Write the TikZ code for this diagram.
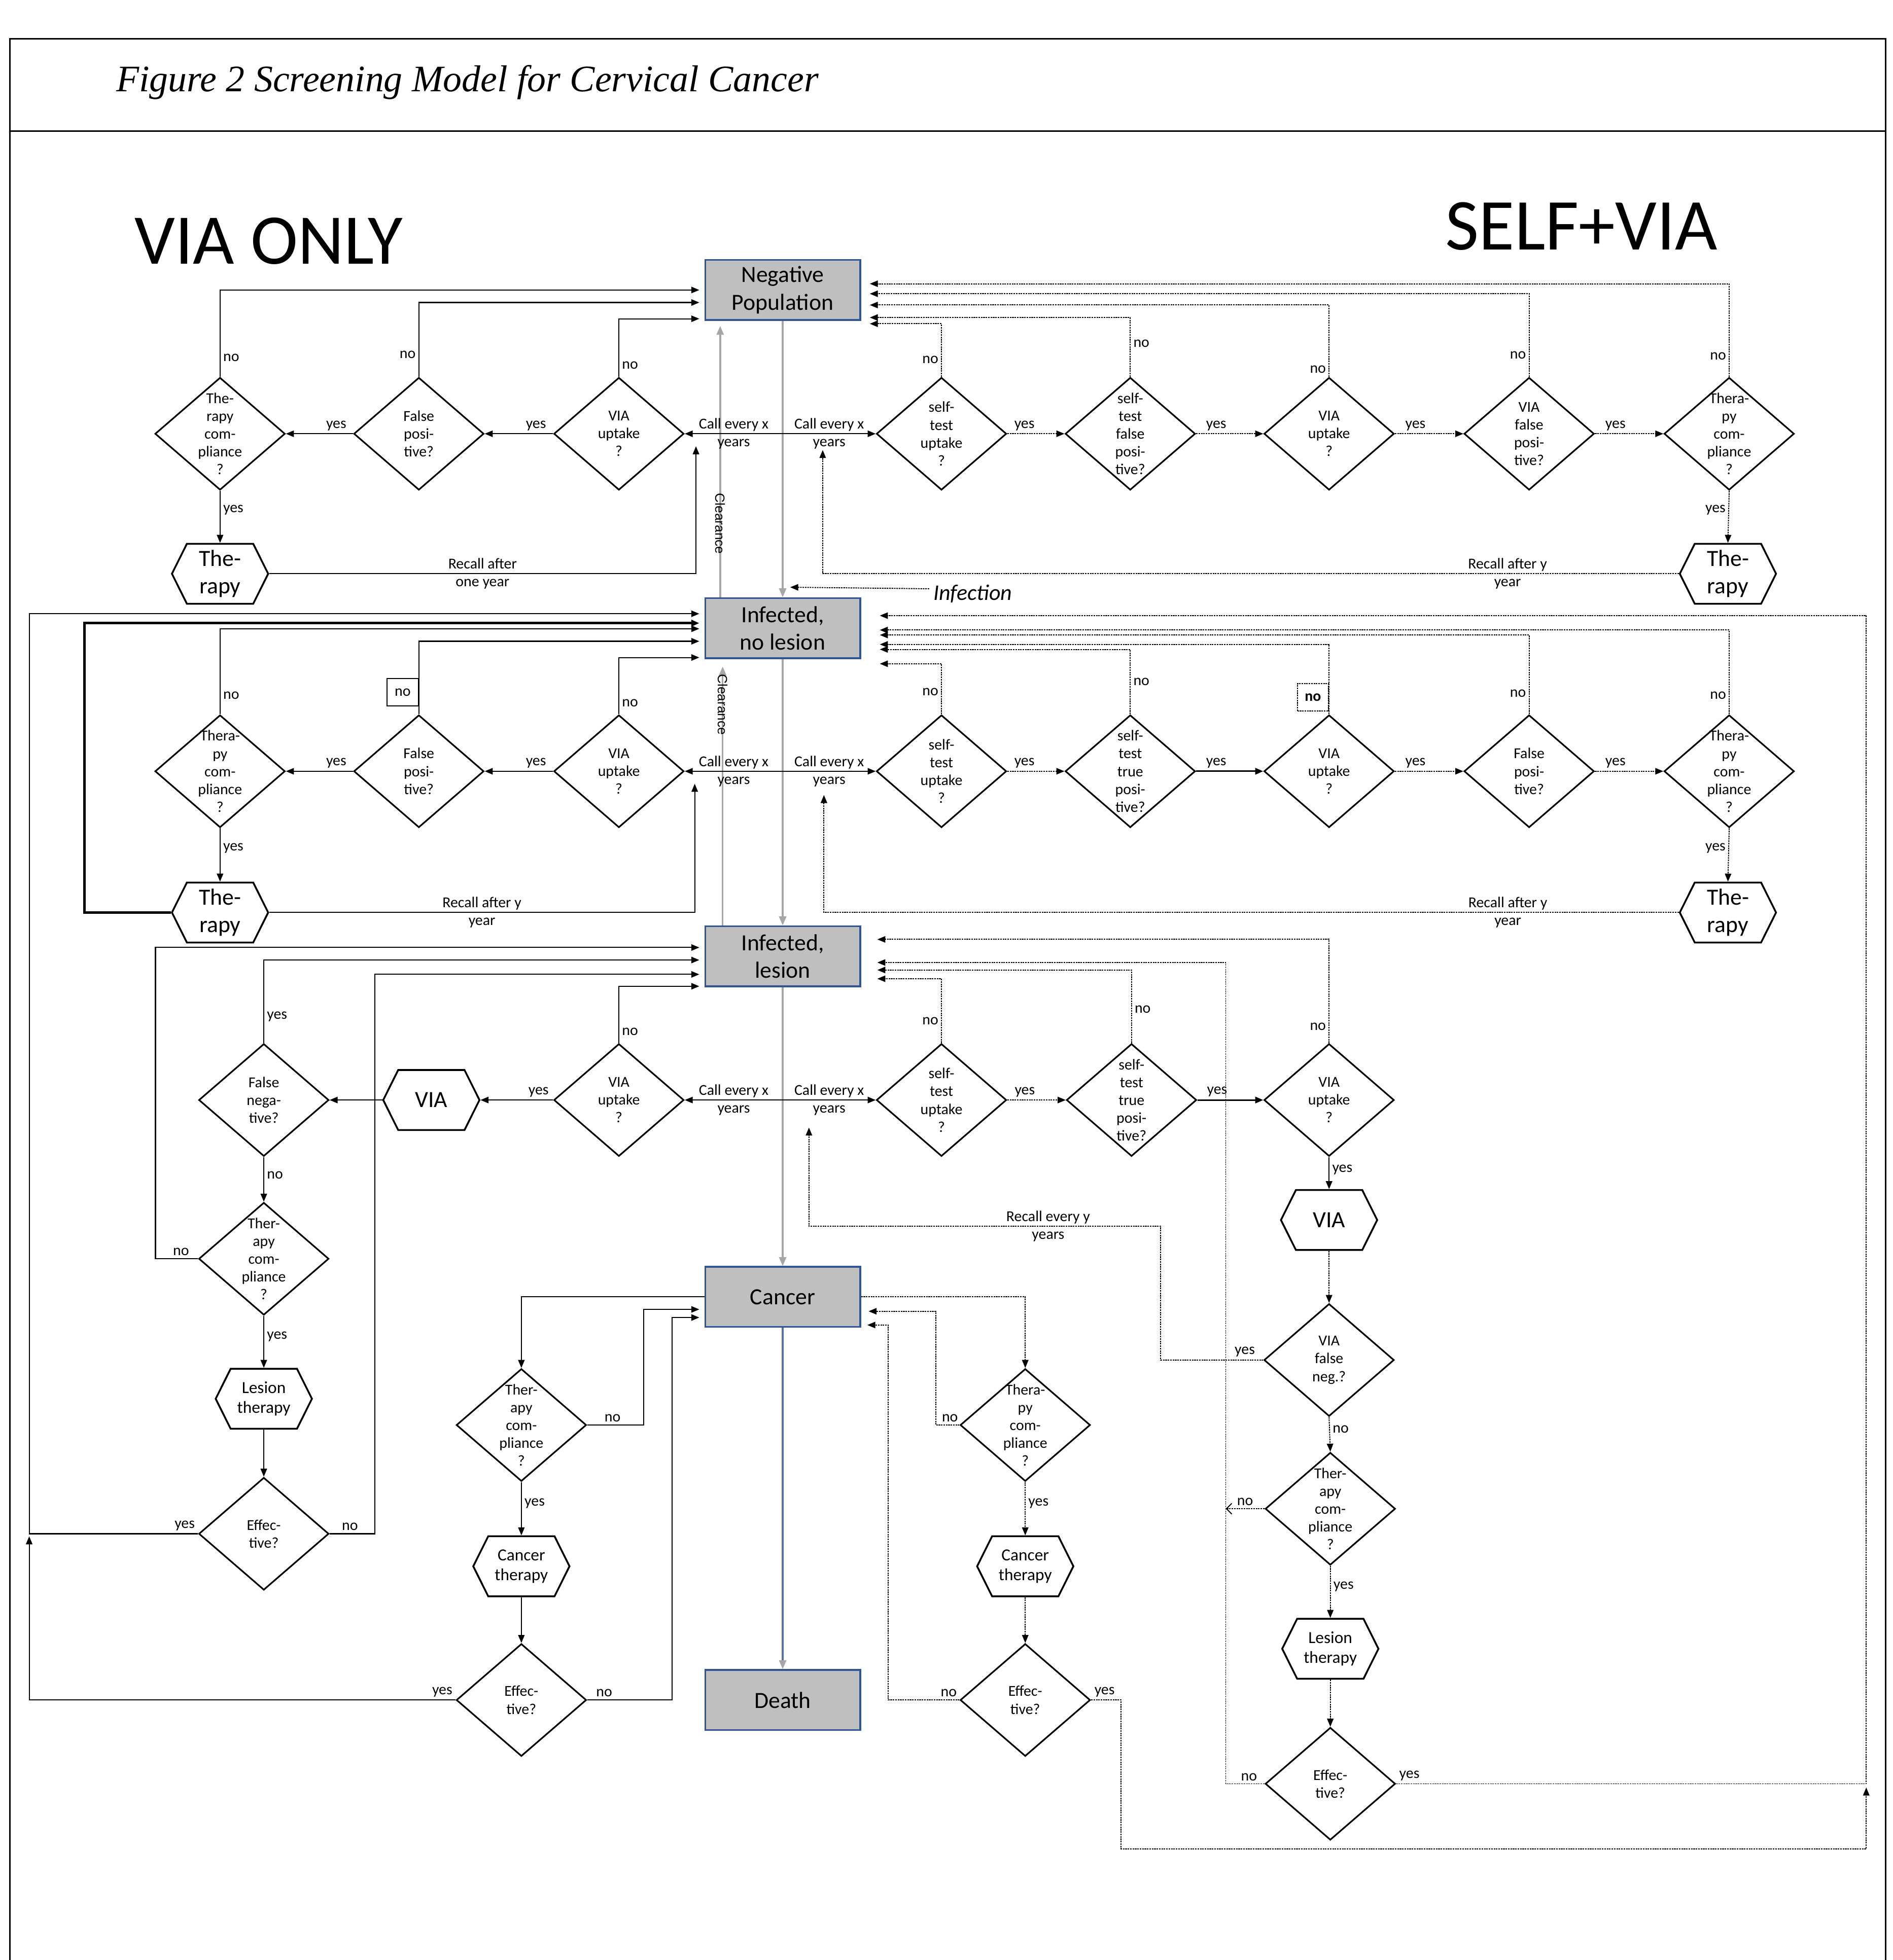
\documentclass[tikz,border=0pt]{standalone}
\usepackage{fontspec}
\setmainfont{Carlito}
\newfontfamily\capfont{Liberation Serif}
\newfontfamily\arialfont{Liberation Sans}
\usepackage{tikz}
\usetikzlibrary{positioning,arrows.meta,shapes.geometric,shapes.symbols,calc}
\definecolor{stategray}{HTML}{BFBFBF}
\definecolor{stateline}{HTML}{2F5597}
\definecolor{flowgray}{HTML}{A6A6A6}
\definecolor{deathline}{HTML}{5573A8}

\begin{document}
\begin{tikzpicture}[
  x=0.02464cm, y=-0.02464cm,
  font=\fontsize{8.5}{10}\selectfont,
  statebox/.style={draw=stateline, fill=stategray, line width=1pt, minimum width=3.055cm, minimum height=1.183cm, align=center, inner sep=2pt, font=\fontsize{13}{15.5}\selectfont},
  dtxt/.style={align=center, inner sep=0pt, font=\fontsize{8.5}{10}\selectfont},
  dia/.style={diamond, draw, line width=0.9pt, minimum width=2.563cm, minimum height=2.218cm, inner sep=0pt, label={[dtxt]center:#1}},
  hexa/.style={signal, signal to=east and west, signal pointer angle=127, draw, line width=1pt, minimum width=1.897cm, minimum height=1.183cm, inner sep=0pt},
  bigtxt/.style={label={[align=center, inner sep=0pt, font=\fontsize{13}{15.5}\selectfont]center:#1}},
  smalltxt/.style={label={[align=center, inner sep=0pt, font=\fontsize{9.5}{11.2}\selectfont]center:#1}},
  lbl/.style={font=\fontsize{8.5}{10}\selectfont, inner sep=1.5pt},
  twoline/.style={lbl, align=center, inner sep=0pt},
  nobox/.style={lbl, minimum width=0.616cm, minimum height=0.542cm},
  clr/.style={text=black, font=\arialfont\fontsize{7.5}{9}\selectfont, rotate=-90, inner sep=0pt},
  arr/.style={-{Triangle[length=4.5pt,width=3.6pt]}, line width=0.6pt},
  dotline/.style={line width=0.55pt, dash pattern=on 0.9pt off 0.45pt},
  darr/.style={dotline, -{Triangle[length=4.5pt,width=3.6pt]}},
  garr/.style={flowgray, line width=1pt, -{Triangle[length=5pt,width=4pt]}}]

\useasboundingbox (0,0) rectangle (1514,1568);

% frame and titles
\draw[line width=0.9pt] (8,1568) -- (8,31) -- (1508,31) -- (1508,1568);
\draw[line width=0.9pt] (8,105) -- (1508,105);
\node[anchor=west, font={\capfont\itshape\fontsize{21}{24}\selectfont}] (caption) at (88,66) {Figure 2 Screening Model for Cervical Cancer};
\node[font=\fontsize{40}{44}\selectfont] (viaonly) at (215,193) {VIA ONLY};
\node[font=\fontsize{41}{45}\selectfont] (selfvia) at (1265,181) {SELF+VIA};

% health states
\node[statebox] (negpop) at (626,232) {Negative\\Population};
\node[statebox] (infnl) at (626,502.5) {Infected,\\no lesion};
\node[statebox] (infl) at (626,765) {Infected,\\lesion};
\node[statebox] (cancer) at (626,1037.5) {Cancer};
\node[statebox] (death) at (626,1360) {Death};

\draw[garr] (negpop) -- (infnl);
\draw[garr] (infnl) -- (infl);
\draw[garr] (infl) -- (cancer);
\draw[deathline, line width=1pt, -{Triangle[length=5pt,width=4pt,color=flowgray]}] (cancer) -- (death);
\draw[garr] ($(infnl.north)+(-50,0)$) -- node[clr, pos=0.29, xshift=0.1cm]{Clearance} ($(negpop.south)+(-50,4)$);
\draw[garr] ($(infl.north)+(-48,0)$) -- node[clr, pos=0.82, xshift=-0.17cm]{Clearance} ($(infnl.south)+(-48,6)$);
\node[font=\itshape\fontsize{12.5}{14}\selectfont, inner sep=0pt] (infect) at (778,475) {Infection};
\draw[darr] ($(infect.west)+(-3,-4)$) -- ($(infnl.north)+(6,-8)$);

% ---------- row 1: negative population ----------
\node[dia={VIA\\uptake\\?}] (v1upt) at (495,347) {};
\node[dia={False\\posi-\\tive?}] (v1fp) at (335,347) {};
\node[dia={The-\\rapy\\com-\\pliance\\?}] (v1comp) at (176,347) {};
\node[hexa, bigtxt={The-\\rapy}] (v1ther) at (176,459) {};
\node[dia={self-\\test\\uptake\\?}] (s1self) at (753,347) {};
\node[dia={self-\\test\\false\\posi-\\tive?}] (s1sfp) at (904,347) {};
\node[dia={VIA\\uptake\\?}] (s1upt) at (1063,347) {};
\node[dia={VIA\\false\\posi-\\tive?}] (s1fp) at (1223,347) {};
\node[dia={Thera-\\py\\com-\\pliance\\?}] (s1comp) at (1383,347) {};
\node[hexa, bigtxt={The-\\rapy}] (s1ther) at (1382,459) {};
\coordinate (call1) at (negpop.south |- v1upt);

\draw[arr] (call1) -- node[twoline]{Call every x\\years} (v1upt.east);
\draw[arr] (call1) -- node[twoline]{Call every x\\years} (s1self.west);
\draw[arr] (v1upt.west) -- node[lbl, above, pos=0.25]{yes} (v1fp.east);
\draw[arr] (v1fp.west) -- node[lbl, above, pos=0.25]{yes} (v1comp.east);
\draw[arr] (v1comp.south) -- node[lbl, right, pos=0.37]{yes} (v1ther.north);
\draw[arr] (v1comp.north) |- node[lbl, right, pos=0.11]{no} ($(negpop.west)+(-4,0)$);
\draw[arr] (v1fp.north) |- node[lbl, left, pos=0.15]{no} ($(negpop.west)+(-4,10)$);
\draw[arr] (v1upt.north) |- node[lbl, right, pos=0.1]{no} ($(negpop.west)+(-4,23)$);
\draw[arr] (v1ther.east) -| node[twoline, pos=0.25]{Recall after\\one year} ($(v1upt.east)+(9,10)$);

\draw[darr] (s1self.east) -- node[lbl, above, pos=0.3]{yes} (s1sfp.west);
\draw[darr] (s1sfp.east) -- node[lbl, above, pos=0.3]{yes} (s1upt.west);
\draw[darr] (s1upt.east) -- node[lbl, above, pos=0.3]{yes} (s1fp.west);
\draw[darr] (s1fp.east) -- node[lbl, above, pos=0.3]{yes} (s1comp.west);
\draw[darr] (s1comp.south) -- node[lbl, left, pos=0.37]{yes} (s1ther.north);
\draw[darr] (s1comp.north) |- node[lbl, left, pos=0.11]{no} ($(negpop.east)+(7,-5)$);
\draw[darr] (s1fp.north) |- node[lbl, left, pos=0.13]{no} ($(negpop.east)+(7,3)$);
\draw[darr] (s1upt.north) |- node[lbl, left, pos=0.05]{no} ($(negpop.east)+(7,12)$);
\draw[darr] (s1sfp.north) |- node[lbl, right, pos=0.28]{no} ($(negpop.east)+(7,22)$);
\draw[darr] (s1self.north) |- node[lbl, left, pos=0.16]{no} ($(negpop.east)+(7,27)$);
\draw[darr] (s1ther.west) -| node[twoline, pos=0.1]{Recall after y\\year} ($(call1)+(32,13)$);

% ---------- row 2: infected, no lesion ----------
\node[dia={VIA\\uptake\\?}] (v2upt) at (495,617) {};
\node[dia={False\\posi-\\tive?}] (v2fp) at (335,617) {};
\node[dia={Thera-\\py\\com-\\pliance\\?}] (v2comp) at (176,617) {};
\node[hexa, bigtxt={The-\\rapy}] (v2ther) at (176,730) {};
\node[dia={self-\\test\\uptake\\?}] (s2self) at (753,617) {};
\node[dia={self-\\test\\true\\posi-\\tive?}] (s2stp) at (904,617) {};
\node[dia={VIA\\uptake\\?}] (s2upt) at (1063,617) {};
\node[dia={False\\posi-\\tive?}] (s2fp) at (1223,617) {};
\node[dia={Thera-\\py\\com-\\pliance\\?}] (s2comp) at (1383,617) {};
\node[hexa, bigtxt={The-\\rapy}] (s2ther) at (1382,730) {};
\coordinate (call2) at (negpop.south |- v2upt);

\draw[arr] (call2) -- node[twoline]{Call every x\\years} (v2upt.east);
\draw[arr] (call2) -- node[twoline]{Call every x\\years} (s2self.west);
\draw[arr] (v2upt.west) -- node[lbl, above, pos=0.25]{yes} (v2fp.east);
\draw[arr] (v2fp.west) -- node[lbl, above, pos=0.25]{yes} (v2comp.east);
\draw[arr] (v2comp.south) -- node[lbl, right, pos=0.37]{yes} (v2ther.north);
\draw[arr] (v2comp.north) |- node[lbl, right, pos=0.11]{no} ($(infnl.west)+(-4,0.5)$);
\draw[arr] (v2fp.north) |- node[nobox, draw, left=0pt, pos=0.15]{no} ($(infnl.west)+(-4,10.5)$);
\draw[arr] (v2upt.north) |- node[lbl, right, pos=0.1]{no} ($(infnl.west)+(-4,23.5)$);
\draw[arr] (v2ther.east) -| node[twoline, pos=0.25]{Recall after y\\year} ($(v2upt.east)+(8,10)$);
\draw[arr, line width=1.4pt] (v2ther.west) -- ++(-69,0) |- ($(infnl.west)+(-4,-4)$);

\draw[darr] (s2self.east) -- node[lbl, above, pos=0.3]{yes} (s2stp.west);
\draw[arr, line width=0.9pt] (s2stp.east) -- node[lbl, above, pos=0.3]{yes} (s2upt.west);
\draw[darr] (s2upt.east) -- node[lbl, above, pos=0.3]{yes} (s2fp.west);
\draw[darr] (s2fp.east) -- node[lbl, above, pos=0.3]{yes} (s2comp.west);
\draw[darr] (s2comp.south) -- node[lbl, left, pos=0.37]{yes} (s2ther.north);
\draw[darr] (s2comp.north) |- node[lbl, left, pos=0.11]{no} ($(infnl.east)+(15,1.5)$);
\draw[darr] (s2fp.north) |- node[lbl, left, pos=0.13]{no} ($(infnl.east)+(15,5.5)$);
\draw[darr] (s2upt.north) |- node[nobox, draw, dotline, left=0pt, pos=0.12, font=\bfseries\fontsize{8.5}{10}\selectfont]{no} ($(infnl.east)+(15,13)$);
\draw[darr] (s2stp.north) |- node[lbl, right, pos=0.25]{no} ($(infnl.east)+(15,17)$);
\draw[darr] (s2self.north) |- node[lbl, left, pos=0.22]{no} ($(infnl.east)+(15,28.5)$);
\draw[darr] (s2ther.west) -| node[twoline, pos=0.1]{Recall after y\\year} ($(call2)+(33,19)$);

% ---------- row 3: infected, lesion ----------
\node[dia={VIA\\uptake\\?}] (v3upt) at (495,880) {};
\node[hexa, bigtxt={VIA}] (v3via) at (345,880) {};
\node[dia={False\\nega-\\tive?}] (v3fn) at (211,880) {};
\node[dia={Ther-\\apy\\com-\\pliance\\?}] (v3comp) at (211,1007) {};
\node[hexa, smalltxt={Lesion\\therapy}] (v3les) at (211,1119) {};
\node[dia={Effec-\\tive?}] (v3eff) at (211,1227) {};
\node[dia={self-\\test\\uptake\\?}] (s3self) at (753,880) {};
\node[dia={self-\\test\\true\\posi-\\tive?}] (s3stp) at (905,880) {};
\node[dia={VIA\\uptake\\?}] (s3upt) at (1063,880) {};
\node[hexa, bigtxt={VIA}] (s3via) at (1063,976) {};
\node[dia={VIA\\false\\neg.?}] (s3fn) at (1063,1088) {};
\node[dia={Ther-\\apy\\com-\\pliance\\?}] (s3comp) at (1064,1207) {};
\node[hexa, smalltxt={Lesion\\therapy}] (s3les) at (1064,1319) {};
\node[dia={Effec-\\tive?}] (s3eff) at (1064,1427) {};
\coordinate (call3) at (negpop.south |- v3upt);
\coordinate (ljoin) at ($(v3eff.west)+(-135,0)$);
\coordinate (rjoin) at ($(s3eff.east)+(376,0)$);

\draw[arr] (call3) -- node[twoline]{Call every x\\years} (v3upt.east);
\draw[arr] (call3) -- node[twoline]{Call every x\\years} (s3self.west);
\draw[arr] (v3upt.west) -- node[lbl, above, pos=0.2]{yes} (v3via.east);
\draw[arr] (v3via.west) -- (v3fn.east);
\draw[arr] (v3fn.south) -- node[lbl, right, pos=0.4]{no} (v3comp.north);
\draw[arr] (v3comp.south) -- node[lbl, right, pos=0.4]{yes} (v3les.north);
\draw[arr] (v3les.south) -- (v3eff.north);
\draw[arr] (v3eff.west) -- node[lbl, above left, pos=0]{yes} (ljoin) |- ($(infnl.west)+(-4,-11.5)$);
\draw[arr] (v3eff.east) -- node[lbl, above, pos=0.45]{no} ++(36,0) |- ($(infl.west)+(-4,14.5)$);
\draw[arr] (v3fn.north) |- node[lbl, right, pos=0.16]{yes} ($(infl.west)+(-4,3)$);
\draw[arr] (v3comp.west) -- node[lbl, above, pos=0.4]{no} ++(-34,0) |- ($(infl.west)+(-4,-7)$);
\draw[arr] (v3upt.north) |- node[lbl, right, pos=0.1]{no} ($(infl.west)+(-4,24)$);

\draw[darr] (s3self.east) -- node[lbl, above, pos=0.3]{yes} (s3stp.west);
\draw[arr, line width=0.9pt] (s3stp.east) -- node[lbl, above, pos=0.3]{yes} (s3upt.west);
\draw[arr] (s3upt.south) -- node[lbl, right, pos=0.4]{yes} (s3via.north);
\draw[darr] (s3via.south) -- (s3fn.north);
\draw[darr] (s3fn.west) -- node[lbl, above, pos=0.18]{yes} ++(-82,0) |- node[twoline, pos=0.66]{Recall every y\\years} ($(call3)+(21,101)$) -- ($(call3)+(21,22)$);
\draw[darr] (s3fn.south) -- node[lbl, right, pos=0.35]{no} (s3comp.north);
\draw[dotline, -{Straight Barb[length=3pt,width=6pt]}] (s3comp.west) -- node[lbl, above]{no} ++(-31,0);
\draw[darr] (s3comp.south) -- node[lbl, right, pos=0.4]{yes} (s3les.north);
\draw[darr] (s3les.south) -- (s3eff.north);
\draw[darr] (s3eff.west) -- node[lbl, above, pos=0.4]{no} ++(-31,0) |- ($(infl.east)+(13,5)$);
\draw[darr] (s3eff.east) -- node[lbl, above right, pos=0]{yes} (rjoin) |- ($(infnl.east)+(15,-10)$);
\draw[darr] (s3upt.north) |- node[lbl, left, pos=0.08]{no} ($(infl.east)+(13,-13.5)$);
\draw[darr] (s3stp.north) |- node[lbl, right, pos=0.23]{no} ($(infl.east)+(13,11)$);
\draw[darr] (s3self.north) |- node[lbl, left, pos=0.17]{no} ($(infl.east)+(13,18)$);

% ---------- cancer ----------
\node[dia={Ther-\\apy\\com-\\pliance\\?}] (vccomp) at (417,1140) {};
\node[hexa, smalltxt={Cancer\\therapy}] (vcther) at (417,1253) {};
\node[dia={Effec-\\tive?}] (vceff) at (417,1360) {};
\node[dia={Thera-\\py\\com-\\pliance\\?}] (sccomp) at (820,1140) {};
\node[hexa, smalltxt={Cancer\\therapy}] (scther) at (820,1253) {};
\node[dia={Effec-\\tive?}] (sceff) at (820,1360) {};

\draw[arr] (cancer.west) -| (vccomp.north);
\draw[arr] (vccomp.east) -- node[lbl, above, pos=0.45]{no} ++(45,0) |- ($(cancer.west)+(-4,10)$);
\draw[arr] (vccomp.south) -- node[lbl, right, pos=0.4]{yes} (vcther.north);
\draw[arr] (vcther.south) -- (vceff.north);
\draw[arr] (vceff.west) -| node[lbl, above left, pos=0]{yes} ($(ljoin)+(0,2)$);
\draw[arr] (vceff.east) -- node[lbl, above, pos=0.2]{no} ++(68,0) |- ($(cancer.west)+(-4,16.5)$);

\draw[darr] (cancer.east) -| (sccomp.north);
\draw[darr] (sccomp.west) -- node[lbl, above, pos=0.4]{no} ++(-19,0) |- ($(cancer.east)+(6,11.5)$);
\draw[darr] (sccomp.south) -- node[lbl, right, pos=0.4]{yes} (scther.north);
\draw[darr] (scther.south) -- (sceff.north);
\draw[darr] (sceff.west) -- node[lbl, above, pos=0.15]{no} ++(-57,0) |- ($(cancer.east)+(5,22.5)$);
\draw[darr] (sceff.east) -- node[lbl, above, pos=0.45]{yes} ++(24,0) |- ($(rjoin)+(0,52)$) -- ($(rjoin)+(0,3)$);
\end{tikzpicture}
\end{document}
